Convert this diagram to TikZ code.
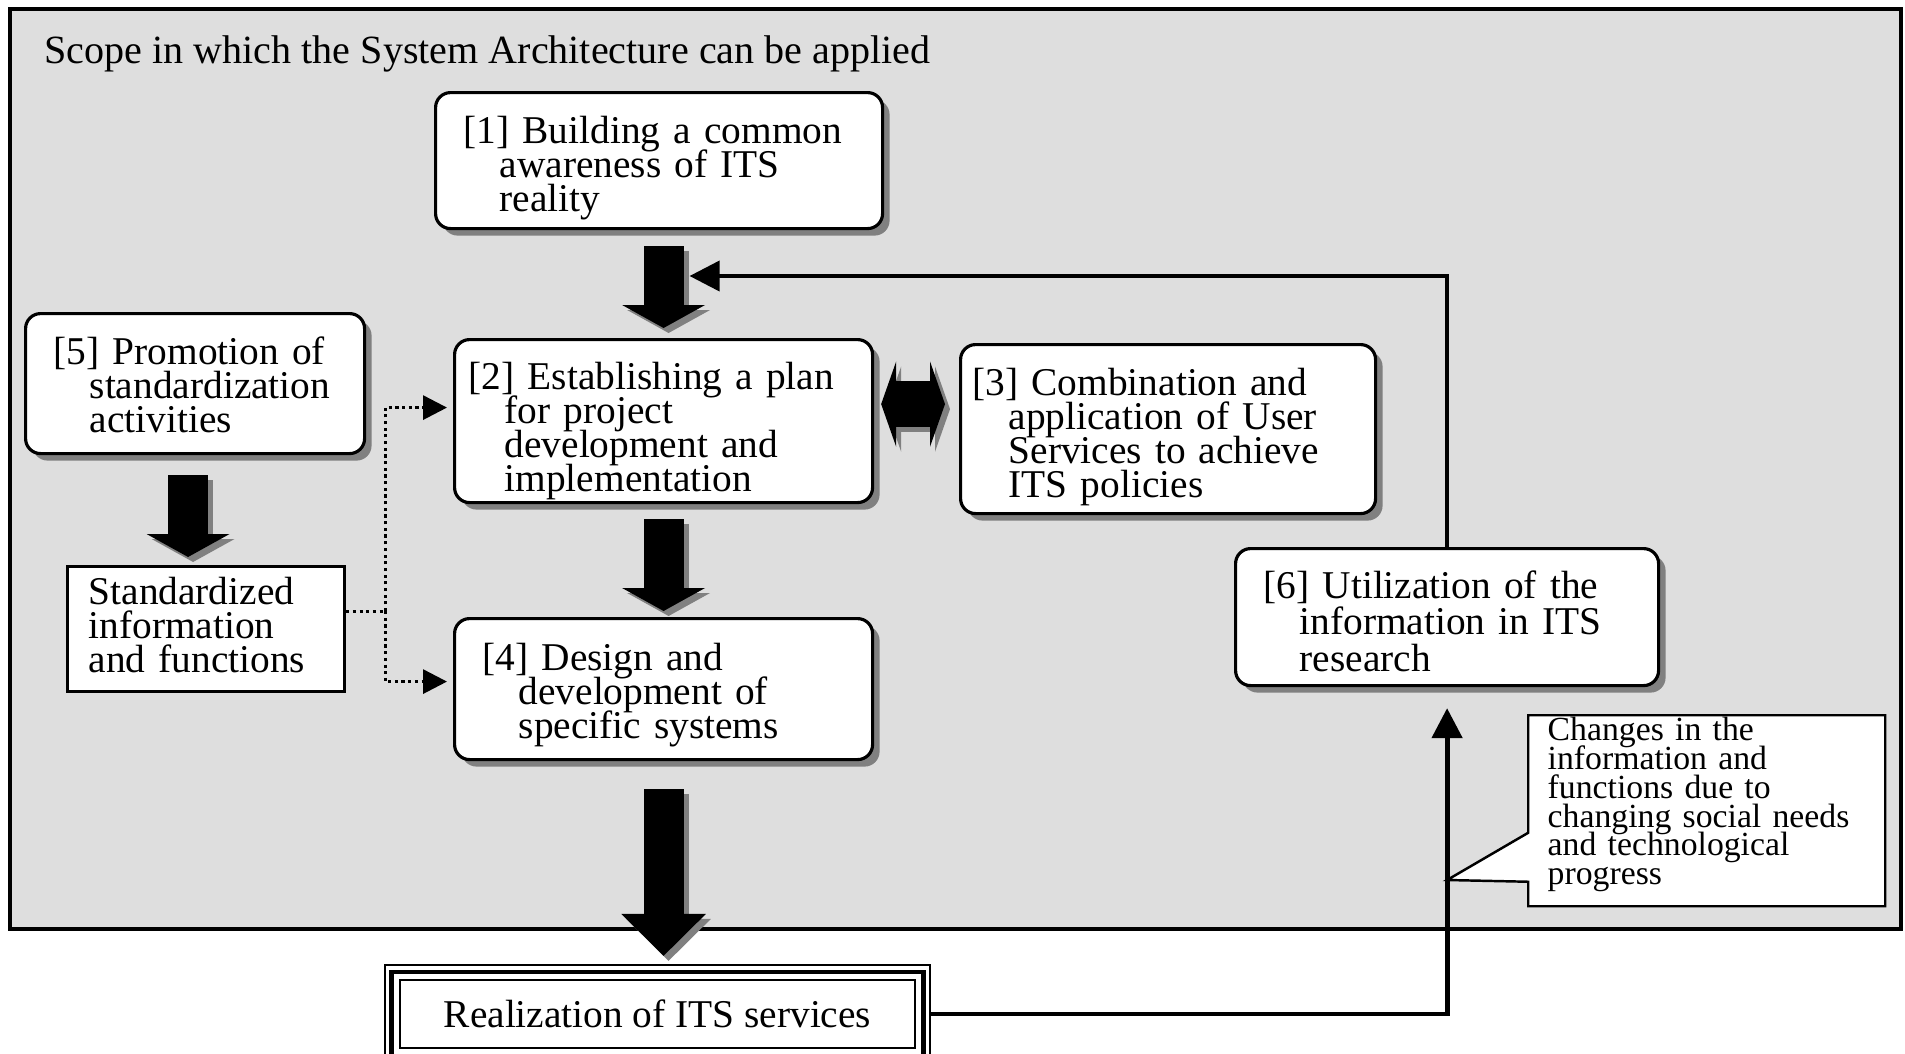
\documentclass[tikz,border=0pt]{standalone}
\usepackage{fontspec}
\setmainfont{Liberation Serif}
\usepackage{tikz}
\usetikzlibrary{arrows.meta,shapes,shadows,calc}
\definecolor{marble}    {RGB}{222, 222, 222}
\definecolor{shadowgray}{RGB}{128, 128, 128}
\newcommand{\boxfont}{\fontsize{11.2pt}{9.7pt}\selectfont\lineskiplimit=-20pt\lineskip=0pt\relax}
\newcommand{\wideboxfont}{\fontsize{11.2pt}{10.4pt}\selectfont\lineskiplimit=-20pt\lineskip=0pt\relax}
\newcommand{\titlefont}{\fontsize{11.4pt}{9.7pt}\selectfont}
\newcommand{\notefont}{\fontsize{9.6pt}{8.25pt}\selectfont\lineskiplimit=-20pt\lineskip=0pt\relax}
\newcommand{\hind}{\hspace*{0.36cm}}

\tikzset{
  rbox/.style={draw, line width=0.9pt, fill=white, rounded corners=0.15cm,
               anchor=north west,
               drop shadow={shadow xshift=0.07cm, shadow yshift=-0.07cm,
                            fill=shadowgray, opacity=1}},
  sbox/.style={draw, line width=0.9pt, fill=white, anchor=north west},
  btext/.style={anchor=base west, align=left, font=\boxfont, inner sep=0pt, text width=4.2cm},
  bigarr/.style={line width=0.40cm, -{Triangle[length=#1, width=0.82cm]}},
  bigarr/.default=0.23cm,
  dblarr/.style={line width=0.46cm,
                 {Triangle[length=0.15cm, width=0.85cm]}-{Triangle[length=0.15cm, width=0.85cm]}},
  fbarr/.style={line width=1.1pt, -{Triangle[length=0.30cm, width=0.30cm]}},
  dotarr/.style={densely dotted, line width=0.9pt, -{Triangle[length=0.24cm, width=0.24cm]}},
}

\begin{document}
\begin{tikzpicture}

    \fill[white] (0,0) rectangle (19.05,-10.53);
    \useasboundingbox (0,0) rectangle (19.05,-10.53);

    % Area of application
    \draw[line width=1.1pt, fill=marble] (0.10,-0.09) rectangle (19.01,-9.29);
    \node[anchor=base west, font=\titlefont, inner xsep=0pt] (title) at (0.44,-0.63)
      {Scope in which the System Architecture can be applied};

    % Step boxes
    \node[rbox, minimum width=4.47cm, minimum height=1.36cm] (b1) at (4.34,-0.91) {};
    \node[rbox, minimum width=4.18cm, minimum height=1.63cm] (b2) at (4.53,-3.38) {};
    \node[rbox, minimum width=4.15cm, minimum height=1.69cm] (b3) at (9.59,-3.43) {};
    \node[rbox, minimum width=4.18cm, minimum height=1.41cm] (b4) at (4.53,-6.17) {};
    \node[rbox, minimum width=3.39cm, minimum height=1.40cm] (b5) at (0.24,-3.12) {};
    \node[sbox, minimum width=2.77cm, minimum height=1.25cm] (std) at (0.66,-5.65) {};
    \node[rbox, minimum width=4.23cm, minimum height=1.37cm] (b6) at (12.34,-5.47) {};

    % Step texts
    \node[btext] (t1) at ([shift={(0.29,-0.52)}]b1.north west)
      {[1] Building a common\\\hind awareness of ITS\\\hind reality};
    \node[btext] (t2) at ([shift={(0.15,-0.515)}]b2.north west)
      {[2] Establishing a plan\\\hind for project\\\hind development and\\\hind implementation};
    \node[btext] (t3) at ([shift={(0.13,-0.52)}]b3.north west)
      {[3] Combination and\\\hind application of User\\\hind Services to achieve\\\hind ITS policies};
    \node[btext] (t4) at ([shift={(0.29,-0.535)}]b4.north west)
      {[4] Design and\\\hind development of\\\hind specific systems};
    \node[btext] (t5) at ([shift={(0.29,-0.525)}]b5.north west)
      {[5] Promotion of\\\hind standardization\\\hind activities};
    \node[btext] (tstd) at ([shift={(0.22,-0.39)}]std.north west)
      {Standardized\\information\\and functions};
    \node[btext, font=\wideboxfont] (t6) at ([shift={(0.29,-0.51)}]b6.north west)
      {[6] Utilization of the\\\hind information in ITS\\\hind research};

    % Result
    \node[draw, line width=0.6pt, minimum width=5.15cm, minimum height=0.68cm,
          font=\boxfont] (real) at (6.575,-10.14) {Realization of ITS services};
    \draw[line width=1.4pt] ([shift={(-0.07,0.07)}]real.north west)
      rectangle ([shift={(0.07,-0.07)}]real.south east);
    \draw[line width=0.6pt] ([shift={(-0.14,0.14)}]real.north west)
      rectangle ([shift={(0.14,-0.14)}]real.south east);

    % Block arrows with their shadows
    \foreach \c/\d in {shadowgray/0.05, black/0}{
      \begin{scope}[transform canvas={shift={(\d,-\d)}}, \c]
        \draw[bigarr, shorten <=0.16cm, shorten >=0.10cm] (b2.north |- b1.south) -- (b2.north);
        \draw[bigarr, shorten <=0.15cm, shorten >=0.06cm] (b2.south) -- (b4.north);
        \draw[bigarr=0.42cm, shorten <=0.28cm, shorten >=0.23cm] (b4.south) -- (b4.south |- real.north);
        \draw[bigarr, shorten <=0.20cm, shorten >=0.08cm] ([xshift=-0.07cm]b5.south)
          -- ([xshift=-0.07cm]b5.south |- std.north);
        \draw[dblarr, shorten <=0.07cm, shorten >=0.14cm] ([yshift=0.17cm]b2.east)
          -- ([yshift=0.17cm]b2.east -| b3.west);
      \end{scope}
    }

    % Standardized results feed [2] and [4]
    \draw[densely dotted, line width=0.9pt] ([yshift=0.18cm]std.east) -- ++(0.39,0) coordinate (dj);
    \draw[dotarr, shorten >=0.06cm] (dj) |- ([yshift=0.135cm]b2.west);
    \draw[dotarr, shorten >=0.06cm] (dj) |- ([yshift=0.075cm]b4.west);

    % Feedback loop
    \coordinate (fbtip) at ($(b2.north)+(0.26,0.62)$);
    \draw[fbarr, line width=1.4pt] ([xshift=0.14cm]real.east) -| ([yshift=-0.21cm]b6.south);
    \draw[fbarr] (b6.north) |- (fbtip);

    % Note
    \coordinate (cpt) at (b6.south |- 0,-8.80);
    \node[rectangle callout, draw, line width=0.7pt, fill=white,
          callout absolute pointer={(cpt)}, callout pointer width=0.49cm,
          anchor=north west, minimum width=3.57cm, minimum height=1.91cm] (note) at (15.27,-7.14) {};
    \node[btext, font=\notefont] (tnote) at ([shift={(0.20,-0.26)}]note.north west)
      {Changes in the\\information and\\functions due to\\changing social needs\\and technological\\progress};

\end{tikzpicture}
\end{document}
